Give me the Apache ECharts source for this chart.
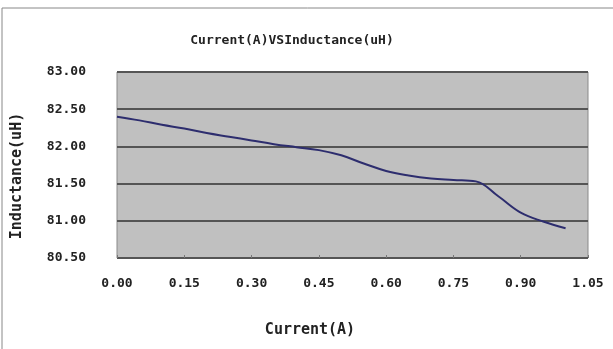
<!DOCTYPE html>
<html>
<head>
<meta charset="utf-8">
<script src="https://cdn.jsdelivr.net/npm/echarts@6/dist/echarts.min.js"></script>
<style>html,body{margin:0;padding:0;background:#fff}#c{width:613px;height:349px}</style>
</head>
<body>
<div id="c"></div>
<script>
const titleText = 'Current(A)VSInductance(uH)';
const xName = 'Current(A)';
const yName = 'Inductance(uH)';
const currents = [0, 0.05, 0.1, 0.15, 0.2, 0.25, 0.3, 0.35, 0.4, 0.45, 0.5, 0.55, 0.6, 0.65, 0.7, 0.75, 0.8, 0.85, 0.9, 0.95, 1.0];
const inductance = [82.40, 82.35, 82.29, 82.24, 82.18, 82.13, 82.08, 82.03, 81.99, 81.95, 81.88, 81.77, 81.67, 81.61, 81.57, 81.55, 81.53, 81.33, 81.11, 80.99, 80.90];
const xTicks = [0, 0.15, 0.30, 0.45, 0.60, 0.75, 0.90, 1.05];
const yTicks = [80.5, 81.0, 81.5, 82.0, 82.5, 83.0];

const chart = echarts.init(document.getElementById('c'));
const font = '"DejaVu Sans Mono", "Liberation Mono", monospace';
chart.setOption({
  animation: false,
  backgroundColor: '#ffffff',
  grid: {left: 117, right: 25, top: 72, bottom: 91, show: true, backgroundColor: '#c0c0c0', borderColor: '#8a8a8a', borderWidth: 1},
  graphic: [
    {type: 'line', shape: {x1: 2, y1: 8, x2: 613, y2: 8}, style: {stroke: '#888', lineWidth: 1}},
    {type: 'line', shape: {x1: 2, y1: 8, x2: 2, y2: 349}, style: {stroke: '#888', lineWidth: 1}},
    {type: 'text', x: 292, y: 41, style: {text: titleText, x: 0, y: 0, textAlign: 'center', textVerticalAlign: 'middle', font: 'bold 13px ' + font, fill: '#222'}},
    {type: 'text', x: 310, y: 330, style: {text: xName, x: 0, y: 0, textAlign: 'center', textVerticalAlign: 'middle', font: 'bold 15px ' + font, fill: '#222'}},
    {type: 'text', rotation: Math.PI / 2, x: 17, y: 176, style: {text: yName, x: 0, y: 0, textAlign: 'center', textVerticalAlign: 'middle', font: 'bold 15px ' + font, fill: '#222'}}
  ],
  xAxis: {
    type: 'value', min: 0, max: 1.05, interval: 0.15,
    axisLine: {show: false},
    axisTick: {show: true, inside: true, length: 3, lineStyle: {color: '#777'}},
    splitLine: {show: false},
    axisLabel: {margin: 19, color: '#222', fontSize: 13, fontWeight: 'bold', fontFamily: font,
      formatter: v => xTicks.some(t => Math.abs(t - v) < 1e-6) ? v.toFixed(2) : ''}
  },
  yAxis: {
    type: 'value', min: 80.5, max: 83, interval: 0.5,
    axisLine: {show: false},
    axisTick: {show: false},
    splitLine: {show: true, lineStyle: {color: '#555', width: 2}},
    axisLabel: {margin: 31, color: '#222', fontSize: 13, fontWeight: 'bold', fontFamily: font,
      formatter: v => yTicks.some(t => Math.abs(t - v) < 1e-6) ? v.toFixed(2) : ''}
  },
  series: [{
    type: 'line', smooth: 0.4, symbol: 'none',
    data: currents.map((c, i) => [c, inductance[i]]),
    lineStyle: {color: '#2d2d6e', width: 2}
  }]
});
</script>
</body>
</html>
